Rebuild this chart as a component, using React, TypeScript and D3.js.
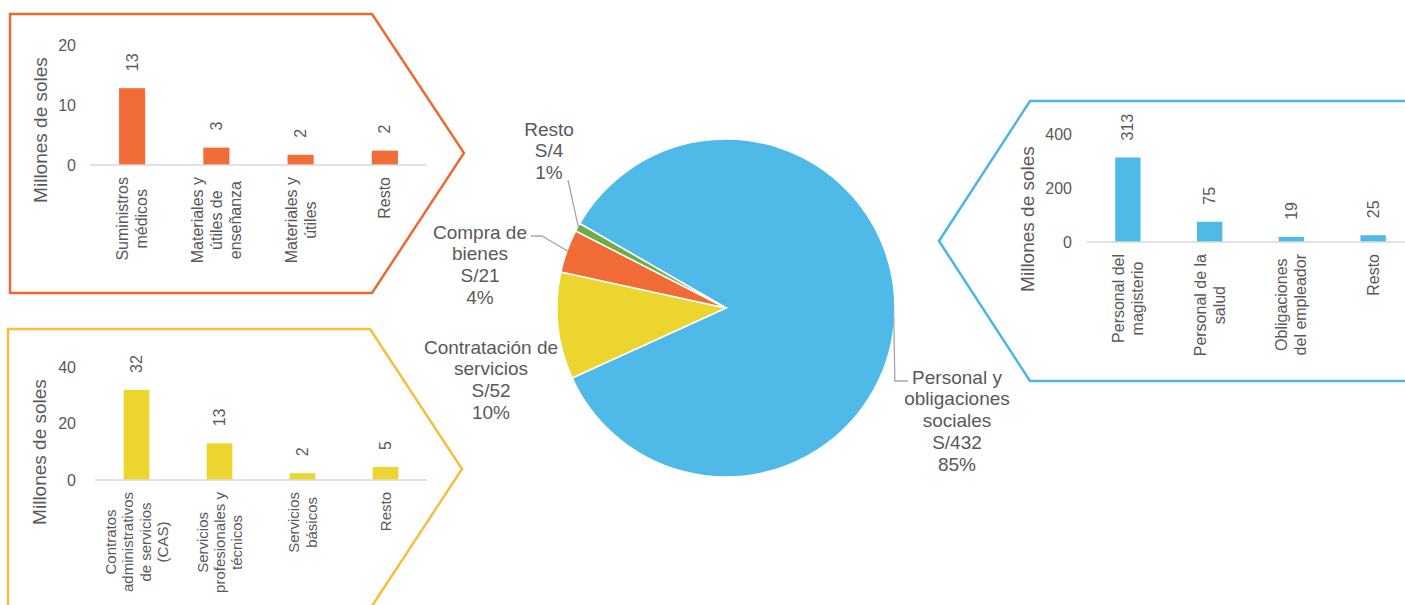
import * as d3 from 'd3';

// pie: gasto por genérica
const pieNames = ['Personal y\nobligaciones\nsociales', 'Contratación de\nservicios', 'Compra de\nbienes', 'Resto'];
const pieValues = [432, 52, 21, 4];

// detalle bienes
const bienesCats = ['Suministros\nmédicos', 'Materiales y\nútiles de\nenseñanza', 'Materiales y\nútiles', 'Resto'];
const bienesValues = [12.8, 2.9, 1.7, 2.4];
const bienesTicks = [0, 10, 20];

// detalle servicios
const serviciosCats = ['Contratos\nadministrativos\nde servicios\n(CAS)', 'Servicios\nprofesionales y\ntécnicos', 'Servicios\nbásicos', 'Resto'];
const serviciosValues = [31.9, 13.0, 2.4, 4.6];
const serviciosTicks = [0, 20, 40];

// detalle personal
const personalCats = ['Personal del\nmagisterio', 'Personal de la\nsalud', 'Obligaciones\ndel empleador', 'Resto'];
const personalValues = [313, 75, 19, 25];
const personalTicks = [0, 200, 400];

const FONT = '"Liberation Sans", Arial, sans-serif';
const GRAY = '#595959';

let ctx: CanvasRenderingContext2D | null = null;
const textWidth = (s: string, size: number) => {
  if (!ctx) ctx = document.createElement('canvas').getContext('2d');
  if (!ctx) return s.length * size * 0.5;
  ctx.font = `${size}px ${FONT}`;
  return ctx.measureText(s).width;
};

const BarPanel = ({ cats, values, ticks, frame, frameColor, barColor, x0, x1, y0, yTop, tickX, titleX, titleY, catSize, catGap }) => {
  const x = d3.scaleBand().domain(cats).range([x0, x1]).paddingInner(0.69).paddingOuter(0.345);
  const y = d3.scaleLinear().domain([0, ticks[ticks.length - 1]]).range([y0, yTop]);
  const fmt = d3.format('.0f');
  return (
    <g>
      <polygon points={frame.map(p => p.join(',')).join(' ')} fill="none" stroke={frameColor} strokeWidth={2.5} />
      <text transform={`translate(${titleX},${titleY}) rotate(-90)`} textAnchor="middle" dominantBaseline="central"
        fontSize={19} fill={GRAY}>Millones de soles</text>
      {ticks.map(t => (
        <text key={t} x={tickX} y={y(t)} textAnchor="end" dominantBaseline="central" fontSize={16} fill={GRAY}>{t}</text>
      ))}
      {values.map((v, i) => (
        <rect key={i} x={x(cats[i])} y={y(v)} width={x.bandwidth()} height={y0 - y(v)} fill={barColor} />
      ))}
      <line x1={x0} x2={x1} y1={y0} y2={y0} stroke="#D9D9D9" strokeWidth={1.5} />
      {values.map((v, i) => (
        <text key={i} transform={`translate(${x(cats[i]) + x.bandwidth() / 2},${y(v) - 17}) rotate(-90)`}
          dominantBaseline="central" fontSize={16} fill={GRAY}>{fmt(v)}</text>
      ))}
      {cats.map(c => {
        const lines = c.split('\n');
        const w = d3.max(lines, l => textWidth(l, catSize));
        const cx = x(c) + x.bandwidth() / 2;
        return (
          <text key={c} transform={`translate(${cx},${y0 + 12 + w / 2}) rotate(-90)`} textAnchor="middle"
            fontSize={catSize} fill={GRAY}>
            {lines.map((l, j) => (
              <tspan key={j} x={0} y={(j - (lines.length - 1) / 2) * catGap} dominantBaseline="central">{l}</tspan>
            ))}
          </text>
        );
      })}
    </g>
  );
};

const pieColors = ['#4FB9E8', '#EDD52F', '#F06B36', '#6FAC45'];
// label anchor (first line centre) and leader elbows
const pieLabelPos = [
  { x: 957, y: 377, leader: (p) => [p, [p[0] + 1, 381], [908, 381]] },
  { x: 491, y: 347, leader: null },
  { x: 480, y: 232, leader: (p) => [p, [542, 236], [531, 236]] },
  { x: 549, y: 129, leader: (p) => [p, [568, 180]] },
];

const Pie = () => {
  const cx = 726, cy = 308, r = 169;
  const start = (300 * Math.PI) / 180;
  const arcs = d3.pie<number>().sort(null).value(d => d).startAngle(start).endAngle(start + 2 * Math.PI)(pieValues);
  const arc = d3.arc().innerRadius(0).outerRadius(r);
  const total = d3.sum(pieValues);
  const pct = d3.format('.0%');
  return (
    <g>
      <g transform={`translate(${cx},${cy})`}>
        {arcs.map((a, i) => (
          <path key={i} d={arc(a as any)} fill={pieColors[i]} stroke="#fff" strokeWidth={1.5} />
        ))}
      </g>
      {arcs.map((a, i) => {
        const pos = pieLabelPos[i];
        const mid = (a.startAngle + a.endAngle) / 2;
        const p = [cx + (r - 1) * Math.sin(mid), cy - (r - 1) * Math.cos(mid)];
        const lines = [...pieNames[i].split('\n'), `S/${pieValues[i]}`, pct(pieValues[i] / total)];
        return (
          <g key={i}>
            {pos.leader && (
              <path d={d3.line()(pos.leader(p))} fill="none" stroke="#A6A6A6" strokeWidth={1.3} />
            )}
            <text textAnchor="middle" fontSize={19} fill={GRAY}>
              {lines.map((l, j) => (
                <tspan key={j} x={pos.x} y={pos.y + j * 21.8} dominantBaseline="central">{l}</tspan>
              ))}
            </text>
          </g>
        );
      })}
    </g>
  );
};

export default function App() {
  return (
    <svg width={1405} height={605} style={{ position: 'absolute', left: 0, top: 0, background: '#fff' }}
      fontFamily={FONT}>
      <BarPanel cats={bienesCats} values={bienesValues} ticks={bienesTicks}
        frame={[[10, 14], [372, 14], [464, 153], [372, 293], [10, 293]]} frameColor="#EE6A33" barColor="#F06D37"
        x0={90} x1={427} y0={165} yTop={45} tickX={76} titleX={40} titleY={130} catSize={16} catGap={19} />
      <BarPanel cats={serviciosCats} values={serviciosValues} ticks={serviciosTicks}
        frame={[[8, 329], [370, 329], [462, 469], [370, 609], [8, 609]]} frameColor="#F6BE3F" barColor="#EDD52F"
        x0={95} x1={427} y0={480} yTop={367} tickX={76} titleX={39} titleY={452} catSize={15} catGap={17.3} />
      <BarPanel cats={personalCats} values={personalValues} ticks={personalTicks}
        frame={[[1420, 101], [1030, 101], [939, 241], [1030, 381], [1420, 381]]} frameColor="#4BB5E7" barColor="#4FB9E8"
        x0={1087} x1={1414} y0={242} yTop={134} tickX={1072} titleX={1027} titleY={219} catSize={16} catGap={19} />
      <Pie />
    </svg>
  );
}
